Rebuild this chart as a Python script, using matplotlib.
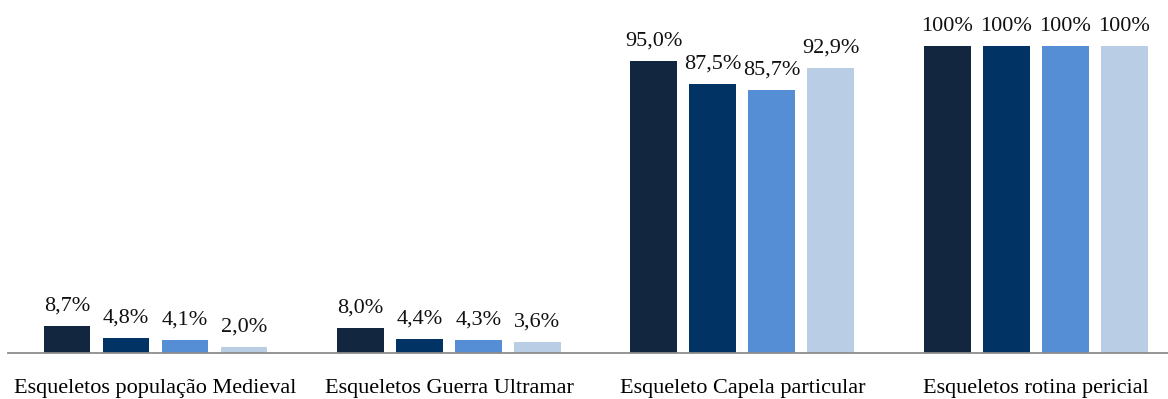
import matplotlib

matplotlib.use("Agg")
import matplotlib.pyplot as plt
import numpy as np


GROUPS = [
    "Esqueletos população Medieval",
    "Esqueletos Guerra Ultramar",
    "Esqueleto Capela particular",
    "Esqueletos rotina pericial",
]
SERIES_1 = [8.7, 8.0, 95.0, 100.0]
SERIES_2 = [4.8, 4.4, 87.5, 100.0]
SERIES_3 = [4.1, 4.3, 85.7, 100.0]
SERIES_4 = [2.0, 3.6, 92.9, 100.0]

COLORS = ["#13263f", "#023365", "#558ed5", "#b9cde5"]


def fmt(v):
    if v >= 100:
        return "100%"
    return f"{v:.1f}%".replace(".", ",")


def main():
    plt.rcParams["font.family"] = ["Liberation Serif", "DejaVu Serif"]
    fig = plt.figure(figsize=(11.68, 3.99), dpi=100)
    ax = fig.add_axes([8 / 1168, 46 / 399, 1 - 8 / 1168, 1 - 46 / 399])

    x = np.arange(len(GROUPS))
    step = 0.201
    width = 0.16
    all_series = [SERIES_1, SERIES_2, SERIES_3, SERIES_4]
    for i, (vals, color) in enumerate(zip(all_series, COLORS)):
        pos = x + (i - 1.5) * step
        ax.bar(pos, vals, width=width, color=color, zorder=2)
        for px, v in zip(pos, vals):
            ax.annotate(fmt(v), (px, v), xytext=(0, 20), textcoords="offset pixels",
                        ha="center", va="center", fontsize=16, color="#111111")

    ax.set_xlim(-0.5026, 3.45)
    ax.set_ylim(0, 115)
    for side in ["top", "right", "left"]:
        ax.spines[side].set_visible(False)
    ax.spines["bottom"].set_color("#8c8c8c")
    ax.spines["bottom"].set_linewidth(1.3)
    ax.set_yticks([])
    ax.set_xticks(x)
    ax.set_xticklabels(GROUPS, fontsize=16)
    ax.tick_params(axis="x", length=0, pad=19)

    fig.savefig("out.png", dpi=100)
    plt.close(fig)


if __name__ == "__main__":
    main()
